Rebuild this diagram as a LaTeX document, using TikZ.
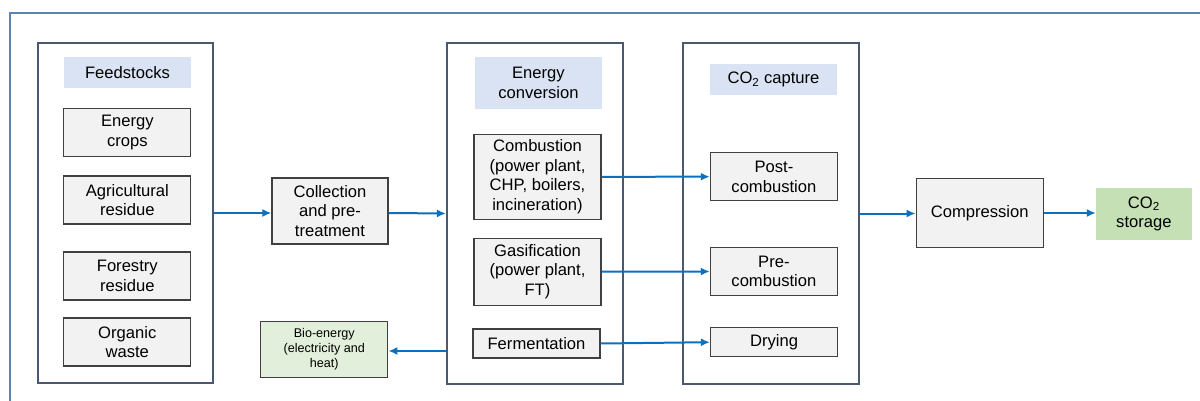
\documentclass[tikz,border=0pt]{standalone}
\usepackage{fontspec}
\setmainfont{Liberation Sans}
\usetikzlibrary{arrows.meta, positioning}
\definecolor{framecol}{HTML}{5B85B5}
\definecolor{groupcol}{HTML}{4A5870}
\definecolor{titlefill}{HTML}{DAE3F3}
\definecolor{itemfill}{HTML}{F2F2F2}
\definecolor{itemline}{HTML}{404040}
\definecolor{energyfill}{HTML}{E2EFDA}
\definecolor{storefill}{HTML}{C5E0B4}
\definecolor{flowcol}{HTML}{0C70C0}
\tikzset{
  >={Latex[length=9pt,width=8pt]},
  every node/.style={inner sep=0pt, align=center,
    font=\fontsize{16.6}{19.5}\selectfont},
  group/.style={draw=groupcol, line width=2.2pt},
  title/.style={fill=titlefill, minimum width=127pt},
  item/.style={draw=itemline, line width=1.2pt, fill=itemfill,
    minimum width=127pt},
  flow/.style={->, draw=flowcol, line width=2pt},
}
\begin{document}
\begin{tikzpicture}[x=1pt,y=-1pt]
  \useasboundingbox (0,0) rectangle (1200,401);
  % outer frame
  \draw[framecol, line width=2pt] (10,401) -- (10,13.5) -- (1200,13.5);

  % feedstocks
  \node[group, minimum width=175pt, minimum height=340pt] (feed) at (125.5,213) {};
  \node[title, minimum height=31pt]  (feedtitle) at (127.5,72.5)  {Feedstocks};
  \node[item,  minimum height=48pt]  (crops)     at (127.3,132.7) {Energy\\crops};
  \node[item,  minimum height=48pt]  (agri)      at (127.3,200)   {Agricultural\\residue};
  \node[item,  minimum height=48pt]  (forest)    at (127.3,276)   {Forestry\\residue};
  \node[item,  minimum height=48pt]  (organic)   at (127.3,342)   {Organic\\waste};

  \node[item, minimum width=116pt, minimum height=66pt] (collect) at (330,211) {Collection\\and pre-\\treatment};
  \node[item, fill=energyfill, minimum height=56pt,
        font=\fontsize{12.6}{15}\selectfont] (bio) at (324.3,349.5) {Bio-energy\\(electricity and\\heat)};

  % energy conversion
  \node[group, minimum width=175.7pt, minimum height=341pt] (conv) at (534.9,213.5) {};
  \node[title, minimum height=52pt] (convtitle) at (538.4,83)    {Energy\\conversion};
  \node[item,  minimum height=85pt] (comb)      at (537.5,176.8) {Combustion\\(power plant,\\CHP, boilers,\\incineration)};
  \node[item,  minimum height=67pt] (gas)       at (537.5,271.7) {Gasification\\(power plant,\\FT)};
  \node[item,  minimum height=29pt] (ferm)      at (536.5,343.5) {Fermentation};

  % capture
  \node[group, minimum width=176pt, minimum height=341pt] (capture) at (770.7,213.5) {};
  \node[title, minimum height=31pt] (capttitle) at (773.5,79.5)  {CO\textsubscript{2} capture};
  \node[item,  minimum height=48pt] (post)      at (773.9,176.7) {Post-\\combustion};
  \node[item,  minimum height=48pt] (pre)       at (773.9,271.5) {Pre-\\combustion};
  \node[item,  minimum height=29pt] (dry)       at (774,342.2)   {Drying};

  \node[item, minimum height=68.6pt] (compr) at (979.7,213) {Compression};
  \node[fill=storefill, minimum width=95.7pt, minimum height=51.7pt] (store) at (1143.9,213.9) {CO\textsubscript{2}\\storage};

  % flows
  \draw[flow] (feed.east) -- (collect.west |- feed.east);
  \draw[flow] (collect.east |- feed.east) -- (conv.west);
  \draw[flow] (comb.east) -- (post.west);
  \draw[flow] (gas.east) -- (pre.west);
  \draw[flow] (ferm.east) -- (dry.west);
  \draw[flow] (conv.west |- 0,351) -- (bio.east |- 0,351);
  \draw[flow] (capture.east) -- (compr.west |- capture.east);
  \draw[flow] (compr.east) -- (store.west |- compr.east);
\end{tikzpicture}
\end{document}
